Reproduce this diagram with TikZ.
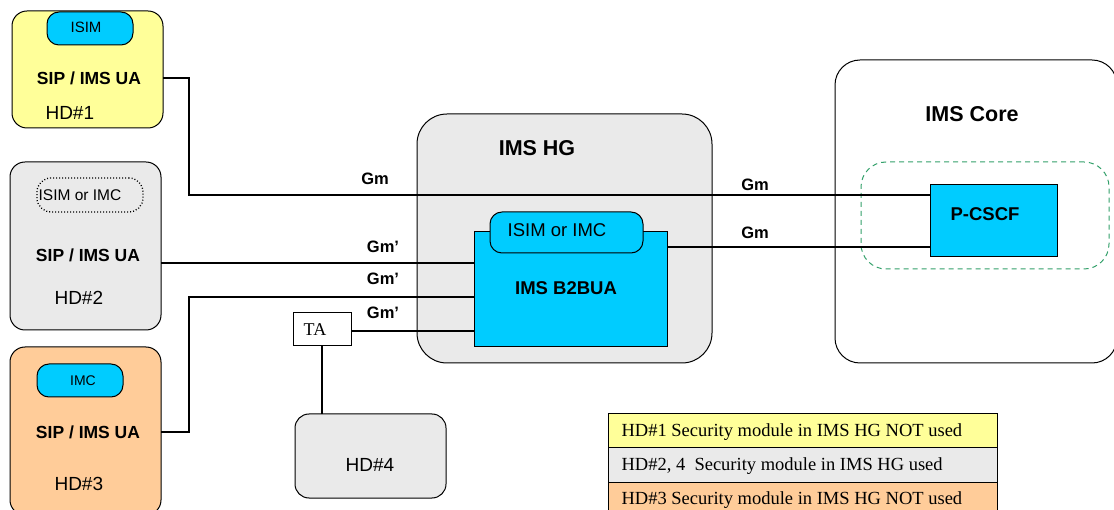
\documentclass[tikz,border=0pt]{standalone}
\usepackage{fontspec}
\setmainfont{Liberation Serif}
\newfontfamily\arial{Liberation Sans}
\definecolor{hdyellow}{HTML}{FFFF99}
\definecolor{hdgray}{HTML}{EAEAEA}
\definecolor{hdorange}{HTML}{FFCC99}
\definecolor{modcyan}{HTML}{00CCFF}
\definecolor{zonegreen}{HTML}{33A06A}
\newcommand{\fs}[1]{\fontsize{#1}{#1}\selectfont}
\tikzset{
  box/.style={draw=black, line width=1pt, outer sep=0pt, inner sep=0pt, anchor=north west},
  device/.style={box, rounded corners=15pt},
  simcard/.style={box, fill=modcyan, rounded corners=12pt},
  wire/.style={draw=black, line width=1.1pt},
  ua/.style={font=\arial\bfseries\fs{17.5}},
  hdname/.style={font=\arial\fs{19}, anchor=west},
  iface/.style={font=\arial\bfseries\fs{16.5}},
  legendrow/.style={box, line width=1pt, minimum width=389pt, minimum height=34pt},
  legendtext/.style={font=\fs{18.5}, anchor=west},
}
\begin{document}
\begin{tikzpicture}[x=1pt,y=-1pt]
\useasboundingbox (0,0) rectangle (1114,510);

% IMS core network
\node[box, rounded corners=25pt, minimum width=282pt, minimum height=303pt] (core) at (835,60) {};
\node[font=\arial\bfseries\fs{21.5}] (coretitle) at (972,114) {IMS Core};
\node[box, draw=zonegreen, dash pattern=on 5pt off 4pt, rounded corners=25pt, minimum width=248pt, minimum height=107pt] (zone) at (861,162) {};
\node[box, fill=modcyan, minimum width=127pt, minimum height=72pt] (pcscf) at (930,185) {};
\node[font=\arial\bfseries\fs{18.5}] (pcscftext) at (985,214) {P-CSCF};

% Home gateway
\node[box, fill=hdgray, rounded corners=30pt, minimum width=295pt, minimum height=249pt] (hg) at (417,114) {};
\node[font=\arial\bfseries\fs{21.5}] (hgtitle) at (537,148) {IMS HG};
\node[box, fill=modcyan, minimum width=193pt, minimum height=115pt] (b2bua) at (474,232) {};
\node[simcard, minimum width=153pt, minimum height=41pt] (hgsim) at (490,212) {};
\node[font=\arial\fs{18.5}] (hgsimtext) at (557,230) {ISIM or IMC};
\node[font=\arial\bfseries\fs{18.5}] (b2buatext) at (566,288) {IMS B2BUA};

% Home devices
\node[device, fill=hdyellow, minimum width=151pt, minimum height=117pt] (hd1) at (12,11) {};
\node[simcard, minimum width=86pt, minimum height=33pt] (sim1) at (47,12) {};
\node[font=\arial\fs{15}] (sim1text) at (86,27) {ISIM};
\node[ua] (sip1) at (89,78) {SIP / IMS UA};
\node[hdname] (hd1name) at (42,113) {HD\#1};

\node[device, fill=hdgray, minimum width=151pt, minimum height=168pt] (hd2) at (10,162) {};
\node[box, rounded corners=14pt, dotted, line width=1.3pt, minimum width=106pt, minimum height=34pt] (sim2) at (37,178) {};
\node[font=\arial\fs{15.5}] (sim2text) at (80,195) {ISIM or IMC};
\node[ua] (sip2) at (88,255) {SIP / IMS UA};
\node[hdname] (hd2name) at (51,298) {HD\#2};

\node[device, fill=hdorange, minimum width=151pt, minimum height=168pt] (hd3) at (10,347) {};
\node[simcard, minimum width=86pt, minimum height=33pt] (sim3) at (37,364) {};
\node[font=\arial\fs{14}] (sim3text) at (83,381) {IMC};
\node[ua] (sip3) at (88,432) {SIP / IMS UA};
\node[hdname] (hd3name) at (51,484) {HD\#3};

\node[box, fill=hdgray, rounded corners=14pt, minimum width=151pt, minimum height=84pt] (hd4) at (295,414) {};
\node[font=\arial\fs{19}] (hd4name) at (370,465) {HD\#4};

\node[box, fill=white, minimum width=58pt, minimum height=33pt] (ta) at (293,313) {};
\node[font=\fs{18}] (tatext) at (315,330) {TA};

% Bend points and ports of the links
\coordinate (bend1) at (189,195);
\coordinate (bend3) at (189,297);
\coordinate (port2) at (161,263);
\coordinate (pc2) at (930,247);

% Links
\draw[wire] (hd1.east |- sip1) -| (bend1) -- (bend1 -| pcscf.west);
\draw[wire] (port2) -- (port2 -| b2bua.west);
\draw[wire] (hd3.east |- sip3) -| (bend3) -- (bend3 -| b2bua.west);
\draw[wire] ([yshift=-1.5pt]ta.east) -- ([yshift=-1.5pt]ta.east -| b2bua.west);
\draw[wire] (ta.south) -- (ta.south |- hd4.north);
\draw[wire] (pc2 -| b2bua.east) -- (pc2);

% Interface labels
\node[iface] (gm1) at (375,179) {Gm};
\node[iface] (gm2) at (755,185) {Gm};
\node[iface] (gm3) at (755,233) {Gm};
\node[iface] (gmp1) at (383,247) {Gm’};
\node[iface] (gmp2) at (383,279) {Gm’};
\node[iface] (gmp3) at (383,313) {Gm’};

% Legend
\node[legendrow, fill=hdyellow] (leg1) at (608,414) {};
\node[legendrow, fill=hdgray] (leg2) at (608,448) {};
\node[legendrow, fill=hdorange] (leg3) at (608,482) {};
\node[legendtext] (leg1text) at (618,432) {HD\#1 Security module in IMS HG NOT used};
\node[legendtext] (leg2text) at (618,466) {HD\#2, 4\ \ Security module in IMS HG used};
\node[legendtext] (leg3text) at (618,500) {HD\#3 Security module in IMS HG NOT used};
\end{tikzpicture}
\end{document}
